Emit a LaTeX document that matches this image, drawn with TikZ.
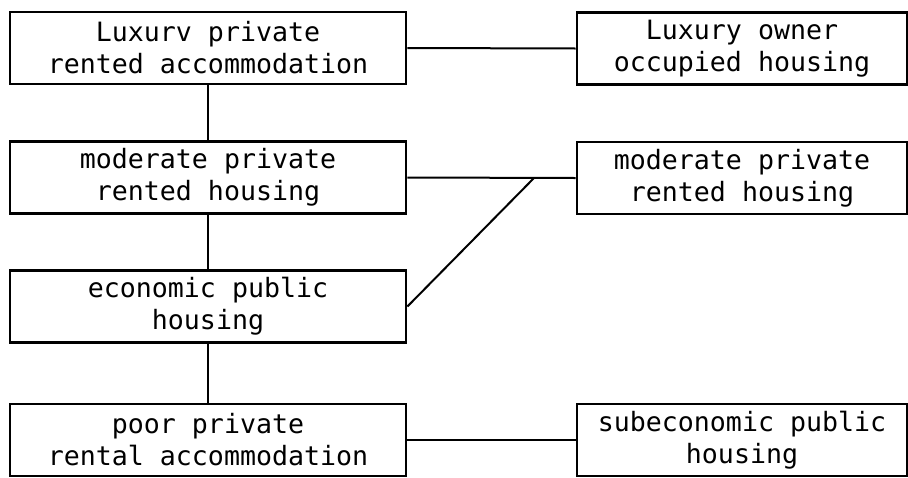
\documentclass[tikz,border=0pt]{standalone}
\usepackage{fontspec}
\newfontfamily\typewriter{DejaVu Sans Mono}
\begin{document}
\begin{tikzpicture}[x=0.5pt,y=-0.5pt,
    tenure/.style={draw, line width=1.4pt, inner sep=0pt, align=center,
      minimum height=36pt, font=\typewriter\fontsize{13.3}{16}\selectfont},
    link/.style={line width=1pt}]
  \pgfmathsetmacro{\leftwidth}{198}
  \pgfmathsetmacro{\rightwidth}{165}
  \useasboundingbox (0,0) rectangle (908,477);
  % left column
  \node[tenure, minimum width=\leftwidth pt] (luxrent) at (208,48) {Luxurv private\\rented accommodation};
  \node[tenure, minimum width=\leftwidth pt] (modleft) at (208,177.5) {moderate private\\rented housing};
  \node[tenure, minimum width=\leftwidth pt] (econ) at (208,306.5) {economic public\\housing};
  \node[tenure, minimum width=\leftwidth pt] (poor) at (208,440) {poor private\\rental accommodation};
  % right column
  \node[tenure, minimum width=\rightwidth pt] (luxown) at (742,48.5) {Luxury owner\\occupied housing};
  \node[tenure, minimum width=\rightwidth pt] (modright) at (742,178) {moderate private\\rented housing};
  \node[tenure, minimum width=\rightwidth pt] (subecon) at (742,440) {subeconomic public\\housing};
  \coordinate (fork) at (534,178);
  \draw[link] (luxrent) -- (modleft) -- (econ) -- (poor);
  \draw[link] (luxrent.east) -- (luxown.west);
  \draw[link] (modleft.east) -- (modright.west);
  \draw[link] (econ.east) -- (fork);
  \draw[link] (poor.east) -- (subecon.west);
\end{tikzpicture}
\end{document}
